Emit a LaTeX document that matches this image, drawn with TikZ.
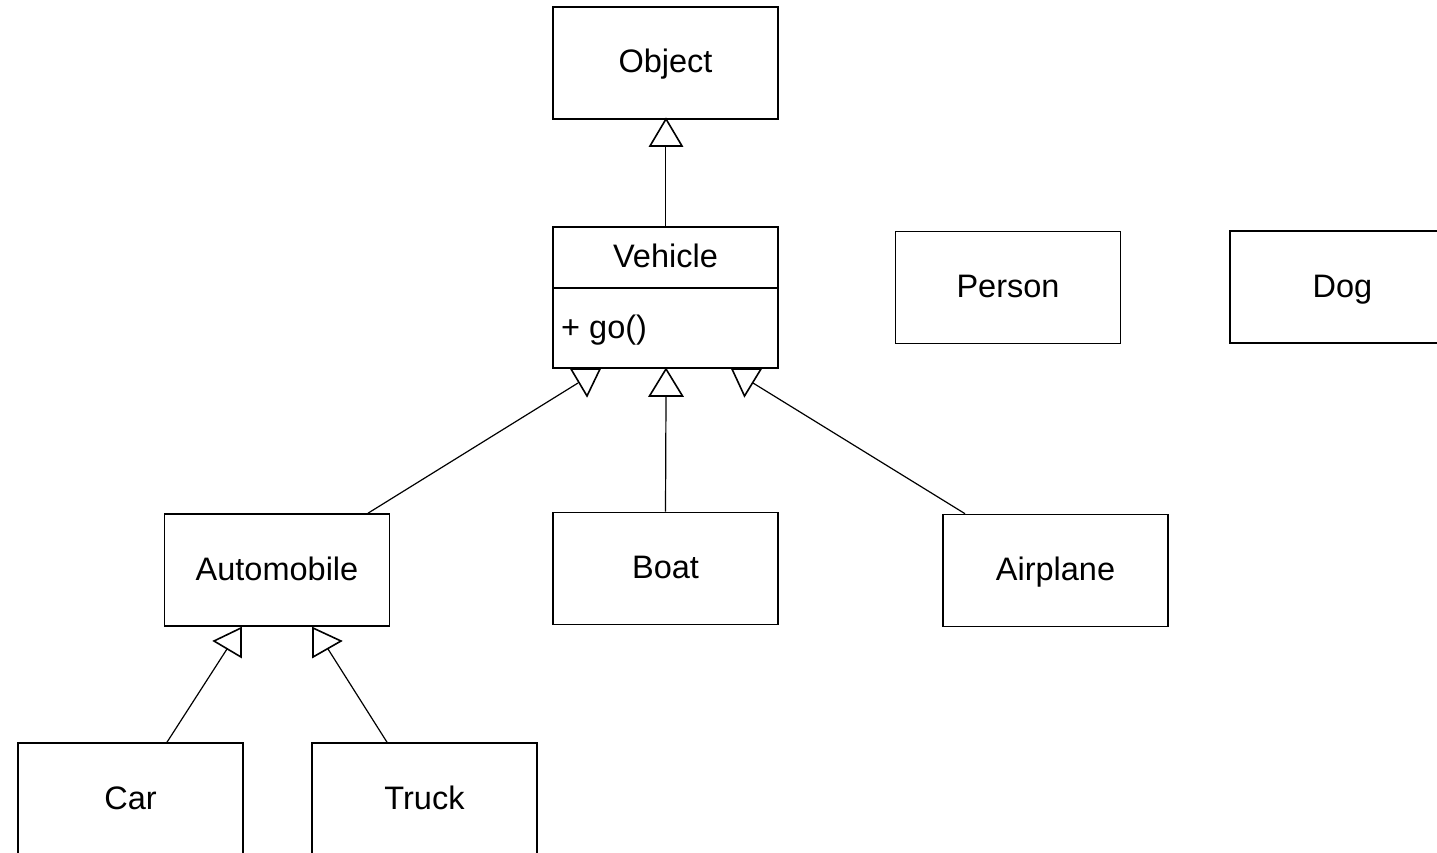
\documentclass[tikz,border=0pt]{standalone}
\usepackage{fontspec}
\setmainfont{Liberation Sans}
\begin{document}
\begin{tikzpicture}[x=1pt,y=-1pt,
  cls/.style={draw,line width=1.6pt,minimum width=225pt,minimum height=112pt,
              inner sep=0pt,text height=24pt,text depth=4pt,
              font=\fontsize{32.5}{38}\selectfont},
  txt/.style={inner sep=0pt,text height=24pt,text depth=4pt,
              font=\fontsize{32.5}{38}\selectfont},
  link/.style={line width=1.2pt},
  head/.style={draw,line width=1.6pt,fill=white,line join=miter}]
\useasboundingbox (0,0) rectangle (1437,853);
\clip (0,0) rectangle (1437,853);

% class boxes
\node[cls] (object) at (665.5,63) {Object};
\node[cls,minimum height=141pt] (vehicle) at (665.5,297.5) {};
\node[txt] (vname) at (665.5,257) {Vehicle};
\node[txt,anchor=west] (vop) at (561,328) {+ go()};
\draw[line width=1.6pt] ([yshift=9.5pt]vehicle.west) -- ([yshift=9.5pt]vehicle.east);
\node[cls] (person) at (1008,287.5) {Person};
\node[cls] (dog) at (1342.5,287) {Dog};
\node[cls] (auto) at (277,570) {Automobile};
\node[cls] (boat) at (665.5,568.5) {Boat};
\node[cls] (plane) at (1055.5,570.5) {Airplane};
\node[cls] (car) at (130.5,799) {Car};
\node[cls] (truck) at (424.5,799) {Truck};

% attachment points on the generalization heads
\coordinate (hObj) at (665.5,146);
\coordinate (hAuto) at (578,383);
\coordinate (hBoat) at (666,396);
\coordinate (hPlane) at (753,383);
\coordinate (hCar) at (227,649);
\coordinate (hTruck) at (328,649);

% connectors
\draw[link] (vehicle.north) -- (hObj);
\draw[link] ([xshift=91pt]auto.north) -- (hAuto);
\draw[link] (boat.north) -- (hBoat);
\draw[link] ([xshift=-90.5pt]plane.north) -- (hPlane);
\draw[link] ([xshift=36.5pt]car.north) -- (hCar);
\draw[link] ([xshift=-37.5pt]truck.north) -- (hTruck);

% hollow triangle heads
\draw[head] (666,119) -- (682,146) -- (650,146) -- cycle;
\draw[head] (571,369) -- (600,369) -- (587,396) -- cycle;
\draw[head] (666,369) -- (682.5,396) -- (649.5,396) -- cycle;
\draw[head] (732,369) -- (761,369) -- (744.5,396) -- cycle;
\draw[head] (241,628) -- (241,657) -- (214,641) -- cycle;
\draw[head] (313,628) -- (313,657) -- (341,641) -- cycle;
\end{tikzpicture}
\end{document}
